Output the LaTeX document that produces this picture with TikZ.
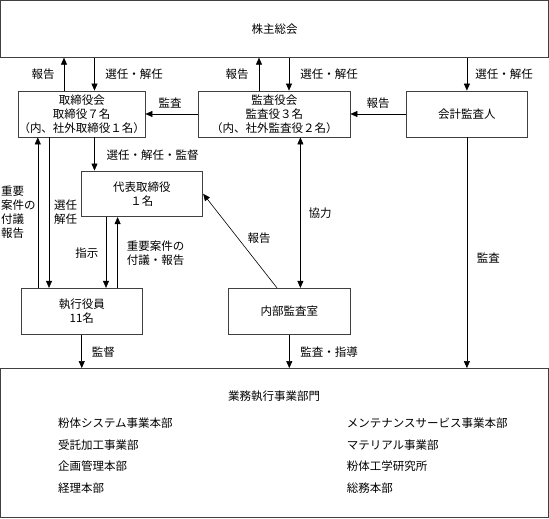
\documentclass[tikz,border=0pt]{standalone}
\usepackage{fontspec}
\setmainfont{Noto Sans CJK JP}
\usetikzlibrary{arrows.meta}
\newcommand{\jfont}{\fontsize{11.5}{14}\selectfont}
\newcommand{\tip}{Triangle[length=7pt,width=6pt]}

\begin{document}
\begin{tikzpicture}[x=1pt,y=-1pt,
  box/.style={draw=black!75,line width=0.8pt,inner sep=0pt,align=center,font=\jfont},
  lbl/.style={inner sep=0pt,align=center,font=\jfont},
  arr/.style={line width=0.6pt,-{\tip}},
  dbl/.style={line width=0.6pt,{\tip}-{\tip}}]
\useasboundingbox (0,0) rectangle (549,519);

 \node[box,minimum width=548pt,minimum height=56.5pt] (top) at (274.5,29) {株主総会};
 \node[box,minimum width=121.5pt,minimum height=46pt] (board) at (81.75,114)
   {取締役会\\取締役７名\\（内、社外取締役１名）};
 \node[box,minimum width=151.5pt,minimum height=46pt] (audit) at (274.25,114)
   {監査役会\\監査役３名\\（内、社外監査役２名）};
 \node[box,minimum width=121.7pt,minimum height=46pt] (acc) at (466.9,114) {会計監査人};
 \node[box,minimum width=121.7pt,minimum height=45.7pt] (rep) at (141.9,193.8)
   {代表取締役\\１名};
 \node[box,minimum width=121.5pt,minimum height=46pt] (exec) at (81.75,311.3)
   {執行役員\\11名};
 \node[box,minimum width=121.4pt,minimum height=46pt] (inner) at (289.3,311.3) {内部監査室};
 \node[box,minimum width=548pt,minimum height=149pt] (dept) at (274.5,443) {};
 \node[lbl] (depttitle) at (274,396.7) {業務執行事業部門};
 \foreach \txt [count=\i] in {粉体システム事業本部,受託加工事業部,企画管理本部,経理本部}
   \node[lbl,anchor=west] (left\i) at (57.8,{423.3+21.5*(\i-1)}) {\txt};
 \foreach \txt [count=\i] in {メンテナンスサービス事業本部,マテリアル事業部,粉体工学研究所,総務本部}
   \node[lbl,anchor=west] (right\i) at (346.6,{423.3+21.5*(\i-1)}) {\txt};

 \draw[arr] (board.north -| 64,0) -- (top.south -| 64,0);
 \draw[arr] (top.south -| 94.5,0) -- (board.north -| 94.5,0);
 \draw[arr] (audit.north -| 259,0) -- (top.south -| 259,0);
 \draw[arr] (top.south -| 289,0) -- (audit.north -| 289,0);
 \draw[arr] (top.south -| acc.north) -- (acc.north);
 \draw[arr] (audit) -- (board);
 \draw[arr] (acc) -- (audit);
 \draw[arr] (board.south -| 94.5,0) -- (rep.north -| 94.5,0);
 \draw[arr] (exec.north -| 37.8,0) -- (board.south -| 37.8,0);
 \draw[arr] (board.south -| 49,0) -- (exec.north -| 49,0);
 \draw[arr] (rep.south -| 106,0) -- (exec.north -| 106,0);
 \draw[arr] (exec.north -| 117.6,0) -- (rep.south -| 117.6,0);
 \draw[dbl] (audit.south -| 300.4,0) -- (inner.north -| 300.4,0);
 \draw[arr] (inner.north -| 277,0) -- (rep.east);
 \draw[arr] (exec.south) -- (exec.south |- dept.north);
 \draw[arr] (inner.south) -- (inner.south |- dept.north);
 \draw[arr] (acc.south) -- (acc.south |- dept.north);

 \node[lbl] (l1) at (43,74) {報告};
 \node[lbl] (l2) at (134,74) {選任・解任};
 \node[lbl] (l3) at (237,74) {報告};
 \node[lbl] (l4) at (329,74) {選任・解任};
 \node[lbl] (l5) at (504,74) {選任・解任};
 \node[lbl] (l6) at (170,103) {監査};
 \node[lbl] (l7) at (378,103) {報告};
 \node[lbl] (l8) at (152.6,155) {選任・解任・監督};
 \node[lbl,align=left,anchor=west] (l9) at (1,212.5) {重要\\案件の\\付議\\報告};
 \node[lbl] (l10) at (65.5,212.5) {選任\\解任};
 \node[lbl] (l11) at (86.8,252.7) {指示};
 \node[lbl,align=left,anchor=west] (l12) at (126.7,253) {重要案件の\\付議・報告};
 \node[lbl] (l13) at (320,212.7) {協力};
 \node[lbl] (l14) at (259,238.3) {報告};
 \node[lbl] (l15) at (488.4,258.3) {監査};
 \node[lbl] (l16) at (103.3,351.7) {監督};
 \node[lbl] (l17) at (329,351.7) {監査・指導};

\end{tikzpicture}
\end{document}
